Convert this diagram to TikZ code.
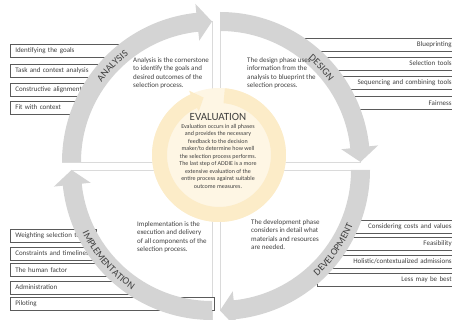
\documentclass[tikz,border=0pt]{standalone}
\usepackage{fontspec}
\setmainfont{Carlito}
\usetikzlibrary{decorations.text}
\definecolor{ringgray}{RGB}{212,212,212}
\definecolor{linegray}{RGB}{218,218,218}
\definecolor{darktext}{RGB}{64,64,64}
\definecolor{boxline}{RGB}{90,90,90}
\definecolor{evalfill}{RGB}{254,246,228}
\definecolor{evalring}{RGB}{252,236,200}
\tikzstyle{itembox} = [rectangle, draw=boxline, line width=0.6pt, fill=white, minimum height=13pt, inner ysep=0pt, inner xsep=5pt, font=\fontsize{7}{8}\selectfont, text=darktext]
\tikzstyle{leftbox} = [itembox, anchor=west, align=left]
\tikzstyle{rightbox} = [itembox, anchor=east, align=right]
\tikzstyle{phasetext} = [anchor=north west, align=left, inner sep=0pt, font=\fontsize{7}{8.5}\selectfont, text=darktext]
\tikzstyle{panel} = [draw=linegray, line width=0.6pt]
\tikzstyle{phasearrow} = [fill=ringgray]
\newcommand{\phasearc}[2]{%
  \fill[phasearrow, shift={#1}, rotate=#2] (180:150) arc[start angle=180, end angle=96, radius=150pt]
    -- (96:159) -- (90:140.5) -- (96:122) -- (96:131) arc[start angle=96, end angle=180, radius=131pt] -- cycle;}
\newcommand{\phaselabel}{\fontsize{10}{10}\selectfont\color{darktext}}

\begin{document}
\begin{tikzpicture}[x=1pt, y=1pt]
    \useasboundingbox (0,0) rectangle (452,-320);
    \clip (0,0) rectangle (452,-320);

    % Panels
    \draw[panel] (212,-21.5) -- (212,-162) -- (62,-162);
    \draw[panel] (220,-12) -- (220,-162) -- (360.5,-162);
    \draw[panel] (370,-170) -- (220,-170) -- (220,-310.5);
    \draw[panel] (71.5,-170) -- (212,-170) -- (212,-320);

    % Nodes
    \node (ana1) [leftbox, text width=108pt] at (10,-50.5) {Identifying the goals};
    \node (ana2) [leftbox, text width=88pt] at (10,-70.5) {Task and context analysis};
    \node (ana3) [leftbox, text width=72pt] at (10,-89.5) {Constructive alignment};
    \node (ana4) [leftbox, text width=62pt] at (10,-107.5) {Fit with context};

    \node (des1) [rightbox, text width=147pt] at (457,-44.5) {Blueprinting};
    \node (des2) [rightbox, text width=119pt] at (457,-63.5) {Selection tools};
    \node (des3) [rightbox, text width=107pt] at (457,-83) {Sequencing and combining tools};
    \node (des4) [rightbox, text width=93pt] at (457,-103) {Fairness};

    \node (dev1) [rightbox, text width=96pt] at (457,-226.5) {Considering costs and values};
    \node (dev2) [rightbox, text width=101pt] at (457,-243.5) {Feasibility};
    \node (dev3) [rightbox, text width=119pt] at (457,-261.5) {Holistic/contextualized admissions};
    \node (dev4) [rightbox, text width=129pt] at (457,-279.5) {Less may be best};

    \node (imp1) [leftbox, text width=76pt] at (10,-236) {Weighting selection tools};
    \node (imp2) [leftbox, text width=84pt] at (10,-253.5) {Constraints and timelines};
    \node (imp3) [leftbox, text width=96pt] at (10,-270) {The human factor};
    \node (imp4) [leftbox, text width=114pt] at (10,-287.5) {Administration};
    \node (imp5) [leftbox, text width=194pt] at (10,-303.5) {Piloting};

    % Arrows
    \phasearc{(212,-162)}{0}
    \phasearc{(220,-162)}{-90}
    \phasearc{(220,-170)}{-180}
    \phasearc{(212,-170)}{90}

    \path[decorate, decoration={text along path, text align=center, text={|\phaselabel|ANALYSIS}}]
        (212,-162) ++(166:136) arc[start angle=166, end angle=106, radius=136pt];
    \path[decorate, decoration={text along path, text align=center, text={|\phaselabel|DESIGN}}]
        (220,-162) ++(73:136) arc[start angle=73, end angle=13, radius=136pt];
    \path[decorate, decoration={text along path, text align=center, text={|\phaselabel|DEVELOPMENT}}]
        (220,-170) ++(-75:144) arc[start angle=-75, end angle=5, radius=144pt];
    \path[decorate, decoration={text along path, text align=center, text={|\phaselabel|IMPLEMENTATION}}]
        (212,-170) ++(180:144) arc[start angle=180, end angle=262, radius=144pt];

    \node (anatext) [phasetext] at (133,-57) {Analysis is the cornerstone\\to identify the goals and\\desired outcomes of the\\selection process.};
    \node (destext) [phasetext] at (247,-57) {The design phase uses\\information from the\\analysis to blueprint the\\selection process.};
    \node (devtext) [phasetext] at (251,-219) {The development phase\\considers in detail what\\materials and resources\\are needed.};
    \node (imptext) [phasetext] at (137,-221) {Implementation is the\\execution and delivery\\of all components of the\\selection process.};

    % Evaluation
    \fill[evalfill] (219,-155) circle[radius=67pt];
    \begin{scope}[shift={(219,-155)}]
        \fill[evalring] (85:67) arc[start angle=85, end angle=-245, radius=67pt]
            -- (-245:71) -- (-255:59.5) -- (-245:48) -- (-245:52) arc[start angle=-245, end angle=85, radius=52pt] -- cycle;
    \end{scope}
    \node (evaltitle) [font=\fontsize{11}{12}\selectfont, text=darktext] at (218,-117) {EVALUATION};
    \node (evaltext) [anchor=north, inner sep=0pt, align=center, font=\fontsize{6}{7.5}\selectfont, text=darktext] at (218,-124)
        {Evaluation occurs in all phases\\and provides the necessary\\feedback to the decision\\maker/to determine how well\\the selection process performs.\\The last step of ADDIE is a more\\extensive evaluation of the\\entire process against suitable\\outcome measures.};
\end{tikzpicture}
\end{document}
